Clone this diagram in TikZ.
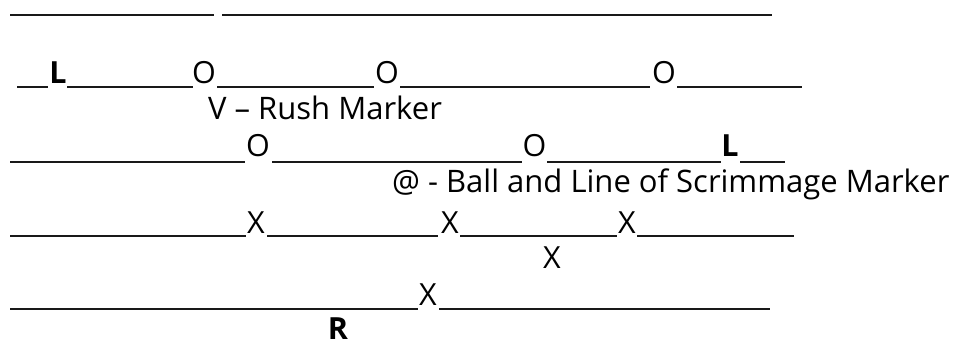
\documentclass[tikz,border=0pt]{standalone}
\usepackage{fontspec}
\setmainfont{Open Sans}
\begin{document}
\begin{tikzpicture}[x=1pt,y=-1pt,
  fld/.style={line width=2pt, draw=black!90},
  mk/.style={inner sep=0pt, anchor=base, font=\fontsize{30.5}{36}\selectfont},
  mkb/.style={mk, font=\fontsize{30.5}{36}\selectfont\bfseries},
  lbl/.style={inner sep=0pt, anchor=base west, font=\fontsize{31}{36}\selectfont}]
\useasboundingbox (0,0) rectangle (955,343);
% row 1
\draw[fld] (10,15) -- (214,15);
\draw[fld] (222,15) -- (772,15);
% row 2
\node[mkb] (l1) at (58,83) {L};
\node[mk] (o1) at (204,83) {O};
\node[mk] (o2) at (387,83) {O};
\node[mk] (o3) at (664,83) {O};
\draw[fld] (17,87) -- (48,87);
\draw[fld] (67,87) -- (193,87);
\draw[fld] (217,87) -- (374,87);
\draw[fld] (400,87) -- (650,87);
\draw[fld] (677,87) -- (802,87);
\node[lbl] (rush) at (208,119) {V – Rush Marker};
% row 3
\node[mk] (o4) at (258,156) {O};
\node[mk] (o5) at (534.5,156) {O};
\node[mkb] (l2) at (730,156) {L};
\draw[fld] (10,162) -- (245,162);
\draw[fld] (272,162) -- (522,162);
\draw[fld] (547,162) -- (721,162);
\draw[fld] (740,162) -- (785,162);
\node[lbl] (ball) at (392,192) {@ - Ball and Line of Scrimmage Marker};
% row 4
\node[mk] (x1) at (256,233) {X};
\node[mk] (x2) at (450,233) {X};
\node[mk] (x3) at (627,233) {X};
\draw[fld] (10,236) -- (246,236);
\draw[fld] (267,236) -- (438,236);
\draw[fld] (460,236) -- (617,236);
\draw[fld] (637,236) -- (794,236);
\node[mk] (x4) at (552,268) {X};
% row 5
\node[mk] (x5) at (428,305) {X};
\draw[fld] (10,309) -- (418,309);
\draw[fld] (439,309) -- (770,309);
\node[mkb] (r) at (338,339.5) {R};
\end{tikzpicture}
\end{document}
